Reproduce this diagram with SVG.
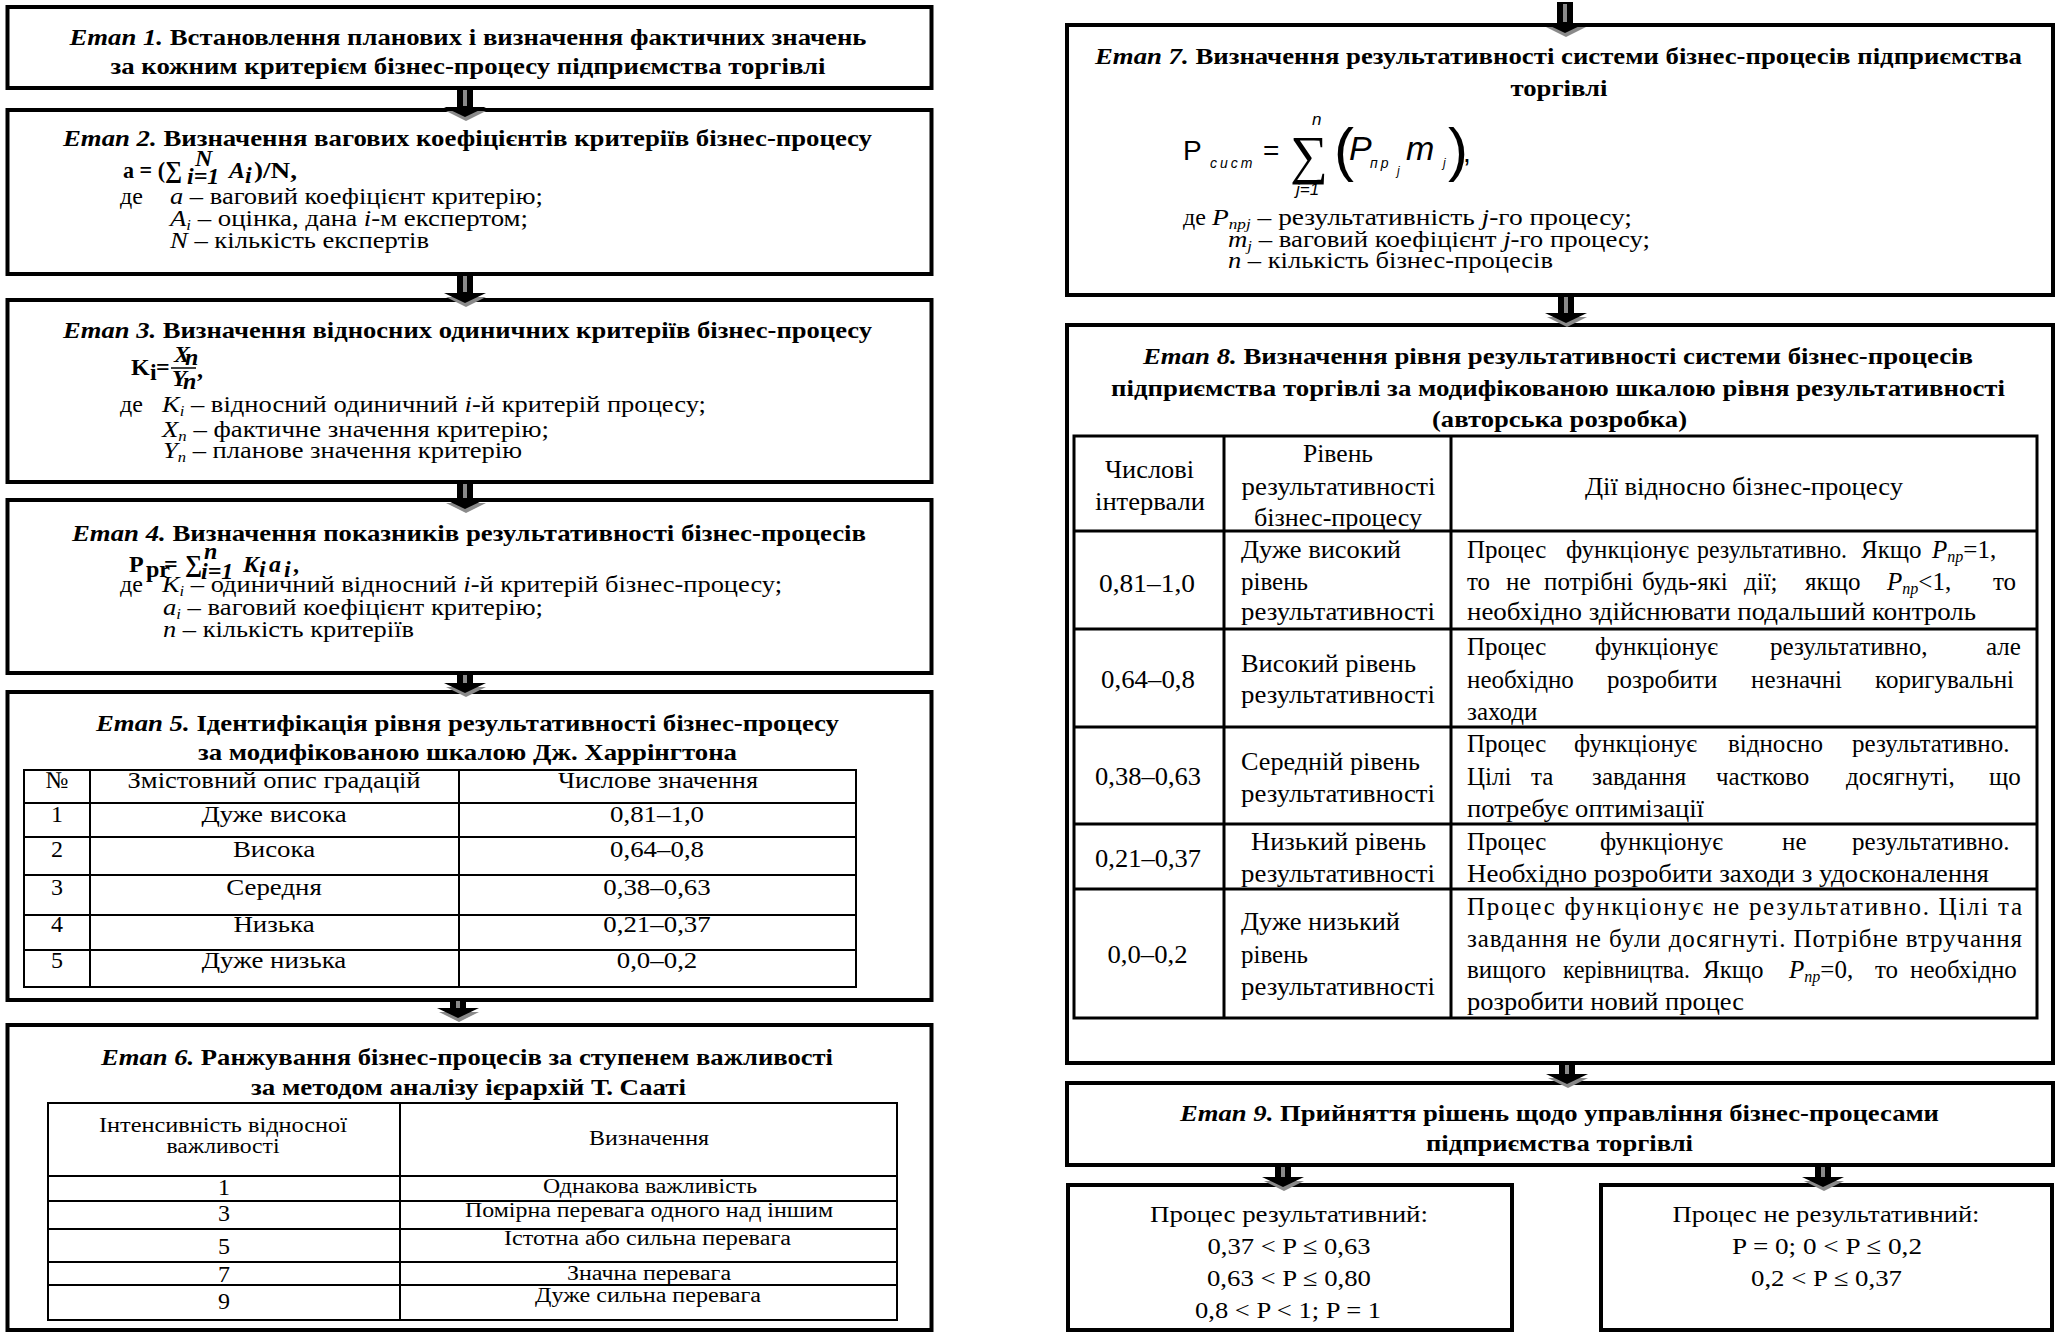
<svg xmlns="http://www.w3.org/2000/svg" xmlns:xlink="http://www.w3.org/1999/xlink" width="2058" height="1333" viewBox="0 0 2058 1333">
<style>
text{font-family:"Liberation Serif","Times New Roman",serif;fill:#000}
.box{fill:#fff;stroke:#000;stroke-width:4}
.tl{fill:none;stroke:#000;stroke-width:2}
.tl3{fill:none;stroke:#000;stroke-width:3}
.h{font-size:24px;font-weight:bold}
.b{font-size:24px}
.s{font-size:20px}
.m{font-size:25px}
.c{text-anchor:middle}
.i{font-style:italic}
.sub{font-size:15px}
.sf{font-family:"Liberation Sans",Arial,sans-serif}
.sh{fill:#000}
.st{fill:#8a8a8a}
</style>
<defs>
<g id="ah">
<polygon class="st" points="-19,4 21,4 1,14"/>
<polygon class="sh" points="-21,0 21,0 0,10"/>
</g>
</defs>

<g id="etap1">
<rect class="box" x="7.5" y="7" width="924" height="81"/>
<text class="h c" x="468" y="45" textLength="797" lengthAdjust="spacingAndGlyphs"><tspan class="i">Етап 1.</tspan> Встановлення планових і визначення фактичних значень</text>
<text class="h c" x="468" y="74" textLength="715" lengthAdjust="spacingAndGlyphs">за кожним критерієм бізнес-процесу підприємства торгівлі</text>
</g>

<g id="etap2">
<rect class="box" x="7.5" y="110" width="924" height="164"/>
<text class="h c" x="467.5" y="146" textLength="809" lengthAdjust="spacingAndGlyphs"><tspan class="i">Етап 2.</tspan> Визначення вагових коефіцієнтів критеріїв бізнес-процесу</text>
<text class="h" x="123" y="178" textLength="42" lengthAdjust="spacingAndGlyphs">a = (</text>
<text class="h" x="165" y="178">∑</text>
<text class="h i" x="187" y="184" font-size="15">i=1</text>
<text class="h i" x="195" y="166" font-size="15">N</text>
<text class="h i" x="229" y="178">A</text>
<text class="h i" x="245" y="183" font-size="15">i</text>
<text class="h" x="254" y="178" textLength="43" lengthAdjust="spacingAndGlyphs">)/N,</text>
<text class="b" x="120" y="204">де</text>
<text class="b" x="170" y="204" textLength="373" lengthAdjust="spacingAndGlyphs"><tspan class="i">a</tspan> – ваговий коефіцієнт критерію;</text>
<text class="b" x="170" y="226" textLength="358" lengthAdjust="spacingAndGlyphs"><tspan class="i">A</tspan><tspan class="i sub" dy="4">i</tspan><tspan dy="-4"> – оцінка, дана </tspan><tspan class="i">i</tspan>-м експертом;</text>
<text class="b" x="170" y="248" textLength="259" lengthAdjust="spacingAndGlyphs"><tspan class="i">N</tspan> – кількість експертів</text>
</g>

<g id="etap3">
<rect class="box" x="7.5" y="300" width="924" height="182"/>
<text class="h c" x="467.5" y="338" textLength="809" lengthAdjust="spacingAndGlyphs"><tspan class="i">Етап 3.</tspan> Визначення відносних одиничних критеріїв бізнес-процесу</text>
<text class="h" x="131" y="375">K</text>
<text class="h" x="150" y="380" font-size="15">i</text>
<text class="h" x="156" y="375">=</text>
<text class="h i" x="174" y="362" font-size="17">X</text>
<text class="h i" x="185" y="365" font-size="12">n</text>
<line x1="171" y1="368" x2="196" y2="368" stroke="#000" stroke-width="1.5"/>
<text class="h i" x="172" y="386" font-size="17">Y</text>
<text class="h i" x="183" y="389" font-size="12">n</text>
<text class="h" x="197" y="377">,</text>
<text class="b" x="120" y="412">де</text>
<text class="b" x="162" y="412" textLength="544" lengthAdjust="spacingAndGlyphs"><tspan class="i">K</tspan><tspan class="i sub" dy="4">i</tspan><tspan dy="-4"> – відносний одиничний </tspan><tspan class="i">i</tspan>-й критерій процесу;</text>
<text class="b" x="162" y="437" textLength="387" lengthAdjust="spacingAndGlyphs"><tspan class="i">X</tspan><tspan class="i sub" dy="4">n</tspan><tspan dy="-4"> – фактичне значення критерію;</tspan></text>
<text class="b" x="163" y="458" textLength="359" lengthAdjust="spacingAndGlyphs"><tspan class="i">Y</tspan><tspan class="i sub" dy="4">n</tspan><tspan dy="-4"> – планове значення критерію</tspan></text>
</g>

<g id="etap4">
<rect class="box" x="7.5" y="500" width="924" height="173"/>
<text class="h c" x="469" y="541" textLength="794" lengthAdjust="spacingAndGlyphs"><tspan class="i">Етап 4.</tspan> Визначення показників результативності бізнес-процесів</text>
<text class="h" x="129" y="572">P</text>
<text class="h" x="146" y="577" font-size="15">pr</text>
<text class="h" x="164" y="572">=</text>
<text class="h" x="185" y="572" font-size="22">∑</text>
<text class="h i" x="201" y="579" font-size="14">i=1</text>
<text class="h i" x="204" y="559" font-size="14">n</text>
<text class="h i" x="243" y="572">K</text>
<text class="h i" x="259" y="577" font-size="15">i</text>
<text class="h i" x="269" y="572">a</text>
<text class="h i" x="284" y="577" font-size="15">i</text>
<text class="h" x="293" y="572">,</text>
<text class="b" x="120" y="592">де</text>
<text class="b" x="162" y="592" textLength="620" lengthAdjust="spacingAndGlyphs"><tspan class="i">K</tspan><tspan class="i sub" dy="4">i</tspan><tspan dy="-4"> – одиничний відносний </tspan><tspan class="i">i</tspan>-й критерій бізнес-процесу;</text>
<text class="b" x="163" y="615" textLength="380" lengthAdjust="spacingAndGlyphs"><tspan class="i">a</tspan><tspan class="i sub" dy="4">i</tspan><tspan dy="-4"> – ваговий коефіцієнт критерію;</tspan></text>
<text class="b" x="163" y="637" textLength="251" lengthAdjust="spacingAndGlyphs"><tspan class="i">n</tspan> – кількість критеріїв</text>
</g>

<g id="etap5">
<rect class="box" x="7.5" y="692" width="924" height="308"/>
<text class="h c" x="467.5" y="731" textLength="743" lengthAdjust="spacingAndGlyphs"><tspan class="i">Етап 5.</tspan> Ідентифікація рівня результативності бізнес-процесу</text>
<text class="h c" x="467.5" y="760" textLength="539" lengthAdjust="spacingAndGlyphs">за модифікованою шкалою Дж. Харрінгтона</text>
<rect class="tl" x="24" y="770" width="832" height="217"/>
<path class="tl" d="M90 770V987M459 770V987M24 803H856M24 837H856M24 875H856M24 915H856M24 950H856"/>
<text class="b c" x="57" y="788">№</text>
<text class="b c" x="274" y="788" textLength="293" lengthAdjust="spacingAndGlyphs">Змістовний опис градацій</text>
<text class="b c" x="658" y="788" textLength="200" lengthAdjust="spacingAndGlyphs">Числове значення</text>
<text class="b c" x="57" y="822">1</text>
<text class="b c" x="57" y="857">2</text>
<text class="b c" x="57" y="895">3</text>
<text class="b c" x="57" y="932">4</text>
<text class="b c" x="57" y="968">5</text>
<g transform="translate(274,0) scale(1.12,1)">
<text class="b c" x="0" y="822">Дуже висока</text>
<text class="b c" x="0" y="857">Висока</text>
<text class="b c" x="0" y="895">Середня</text>
<text class="b c" x="0" y="932">Низька</text>
<text class="b c" x="0" y="968">Дуже низька</text>
</g>
<g transform="translate(657,0) scale(1.12,1)">
<text class="b c" x="0" y="822">0,81–1,0</text>
<text class="b c" x="0" y="857">0,64–0,8</text>
<text class="b c" x="0" y="895">0,38–0,63</text>
<text class="b c" x="0" y="932">0,21–0,37</text>
<text class="b c" x="0" y="968">0,0–0,2</text>
</g>
</g>

<g id="etap6">
<rect class="box" x="7.5" y="1025" width="924" height="305"/>
<text class="h c" x="467" y="1065" textLength="732" lengthAdjust="spacingAndGlyphs"><tspan class="i">Етап 6.</tspan> Ранжування бізнес-процесів за ступенем важливості</text>
<text class="h c" x="468.5" y="1095" textLength="435" lengthAdjust="spacingAndGlyphs">за методом аналізу ієрархій Т. Сааті</text>
<rect class="tl" x="48" y="1103" width="849" height="217"/>
<path class="tl" d="M400 1103V1320M48 1176H897M48 1201H897M48 1229H897M48 1262H897M48 1285H897"/>
<text class="s c" x="223" y="1132" textLength="248" lengthAdjust="spacingAndGlyphs">Інтенсивність відносної</text>
<text class="s c" x="223" y="1153" textLength="113" lengthAdjust="spacingAndGlyphs">важливості</text>
<text class="s c" x="649" y="1145" textLength="120" lengthAdjust="spacingAndGlyphs">Визначення</text>
<text class="b c" x="224" y="1195">1</text><text class="s c" x="650" y="1193" textLength="214" lengthAdjust="spacingAndGlyphs">Однакова важливість</text>
<text class="b c" x="224" y="1221">3</text><text class="s c" x="649" y="1217" textLength="368" lengthAdjust="spacingAndGlyphs">Помірна перевага одного над іншим</text>
<text class="b c" x="224" y="1254">5</text><text class="s c" x="647.5" y="1245" textLength="287" lengthAdjust="spacingAndGlyphs">Істотна або сильна перевага</text>
<text class="b c" x="224" y="1282">7</text><text class="s c" x="649" y="1280" textLength="164" lengthAdjust="spacingAndGlyphs">Значна перевага</text>
<text class="b c" x="224" y="1309">9</text><text class="s c" x="648" y="1302" textLength="226" lengthAdjust="spacingAndGlyphs">Дуже сильна перевага</text>
</g>

<g id="etap7">
<rect class="box" x="1067" y="25" width="986" height="270"/>
<text class="h c" x="1558.5" y="64" textLength="927" lengthAdjust="spacingAndGlyphs"><tspan class="i">Етап 7.</tspan> Визначення результативності системи бізнес-процесів підприємства</text>
<text class="h c" x="1559" y="96" textLength="97" lengthAdjust="spacingAndGlyphs">торгівлі</text>
<text class="sf" x="1183" y="160" font-size="28">P</text>
<text class="sf i" x="1210" y="168" font-size="14" letter-spacing="3">сист</text>
<text class="sf" x="1263" y="160" font-size="28">=</text>
<text x="1290" y="173" font-size="53" font-family="DejaVu Sans, sans-serif">∑</text>
<text class="sf i" x="1312" y="125" font-size="17">n</text>
<text class="sf i" x="1296" y="195" font-size="17">j=1</text>
<text class="sf" x="1334" y="170" font-size="60">(</text>
<text class="sf i" x="1349" y="160" font-size="34">P</text>
<text class="sf i" x="1370" y="168" font-size="14" letter-spacing="3">пр</text>
<text class="sf i" x="1397" y="175" font-size="12">j</text>
<text class="sf i" x="1406" y="160" font-size="34">m</text>
<text class="sf i" x="1443" y="167" font-size="12">j</text>
<text class="sf" x="1448" y="170" font-size="60">)</text>
<text class="sf" x="1463" y="162" font-size="28">,</text>
<text class="b" x="1183" y="225">де</text>
<text class="b" x="1212" y="225" textLength="420" lengthAdjust="spacingAndGlyphs"><tspan class="i">P</tspan><tspan class="i sub" dy="4">прj</tspan><tspan dy="-4"> – результативність </tspan><tspan class="i">j</tspan>-го процесу;</text>
<text class="b" x="1228" y="247" textLength="422" lengthAdjust="spacingAndGlyphs"><tspan class="i">m</tspan><tspan class="i sub" dy="4">j</tspan><tspan dy="-4"> – ваговий коефіцієнт </tspan><tspan class="i">j</tspan>-го процесу;</text>
<text class="b" x="1228" y="268" textLength="325" lengthAdjust="spacingAndGlyphs"><tspan class="i">n</tspan> – кількість бізнес-процесів</text>
</g>

<g id="etap8">
<rect class="box" x="1067" y="325" width="986" height="738"/>
<text class="h c" x="1558" y="364" textLength="830" lengthAdjust="spacingAndGlyphs"><tspan class="i">Етап 8.</tspan> Визначення рівня результативності системи бізнес-процесів</text>
<text class="h c" x="1558" y="396" textLength="894" lengthAdjust="spacingAndGlyphs">підприємства торгівлі за модифікованою шкалою рівня результативності</text>
<text class="h c" x="1559.5" y="427" textLength="255" lengthAdjust="spacingAndGlyphs">(авторська розробка)</text>
<rect class="tl3" x="1074" y="436" width="963" height="582"/>
<path class="tl3" d="M1224 436V1018M1451 436V1018M1074 531H2037M1074 629H2037M1074 727H2037M1074 824H2037M1074 889H2037"/>
<text class="m c" x="1149.5" y="478" textLength="89" lengthAdjust="spacingAndGlyphs">Числові</text>
<text class="m c" x="1150" y="510" textLength="110" lengthAdjust="spacingAndGlyphs">інтервали</text>
<text class="m c" x="1338" y="462" textLength="70" lengthAdjust="spacingAndGlyphs">Рівень</text>
<text class="m c" x="1338.5" y="495" textLength="194" lengthAdjust="spacingAndGlyphs">результативності</text>
<text class="m c" x="1338" y="526" textLength="168" lengthAdjust="spacingAndGlyphs">бізнес-процесу</text>
<text class="m c" x="1744" y="495" textLength="318" lengthAdjust="spacingAndGlyphs">Дії відносно бізнес-процесу</text>

<text class="m c" x="1147" y="592" textLength="96" lengthAdjust="spacingAndGlyphs">0,81–1,0</text>
<text class="m" x="1241" y="558" textLength="160" lengthAdjust="spacingAndGlyphs">Дуже високий</text>
<text class="m" x="1241" y="590" textLength="67" lengthAdjust="spacingAndGlyphs">рівень</text>
<text class="m" x="1241" y="620" textLength="194" lengthAdjust="spacingAndGlyphs">результативності</text>
<text class="m" y="558"><tspan x="1467">Процес</tspan><tspan x="1566">функціонує</tspan><tspan x="1697" textLength="150" lengthAdjust="spacingAndGlyphs">результативно.</tspan><tspan x="1861">Якщо</tspan><tspan x="1932" class="i">P</tspan><tspan class="i" font-size="16" dy="4">пр</tspan><tspan dy="-4">=1,</tspan></text>
<text class="m" y="590"><tspan x="1467">то</tspan><tspan x="1506">не</tspan><tspan x="1544">потрібні</tspan><tspan x="1642">будь-які</tspan><tspan x="1744">дії;</tspan><tspan x="1805">якщо</tspan><tspan x="1887" class="i">P</tspan><tspan class="i" font-size="16" dy="4">пр</tspan><tspan dy="-4">&lt;1,</tspan><tspan x="1993">то</tspan></text>
<text class="m" x="1467" y="620" textLength="509" lengthAdjust="spacingAndGlyphs">необхідно здійснювати подальший контроль</text>

<text class="m c" x="1148" y="688" textLength="94" lengthAdjust="spacingAndGlyphs">0,64–0,8</text>
<text class="m" x="1241" y="672" textLength="175" lengthAdjust="spacingAndGlyphs">Високий рівень</text>
<text class="m" x="1241" y="703" textLength="194" lengthAdjust="spacingAndGlyphs">результативності</text>
<text class="m" y="655"><tspan x="1467">Процес</tspan><tspan x="1595">функціонує</tspan><tspan x="1770">результативно,</tspan><tspan x="1986">але</tspan></text>
<text class="m" y="688"><tspan x="1467">необхідно</tspan><tspan x="1607">розробити</tspan><tspan x="1751">незначні</tspan><tspan x="1875">коригувальні</tspan></text>
<text class="m" x="1467" y="720">заходи</text>

<text class="m c" x="1148" y="785" textLength="106" lengthAdjust="spacingAndGlyphs">0,38–0,63</text>
<text class="m" x="1241" y="770" textLength="179" lengthAdjust="spacingAndGlyphs">Середній рівень</text>
<text class="m" x="1241" y="802" textLength="194" lengthAdjust="spacingAndGlyphs">результативності</text>
<text class="m" y="752"><tspan x="1467">Процес</tspan><tspan x="1574">функціонує</tspan><tspan x="1728">відносно</tspan><tspan x="1852">результативно.</tspan></text>
<text class="m" y="785"><tspan x="1467">Цілі</tspan><tspan x="1531">та</tspan><tspan x="1592">завдання</tspan><tspan x="1716">частково</tspan><tspan x="1846">досягнуті,</tspan><tspan x="1989">що</tspan></text>
<text class="m" x="1467" y="817" textLength="237" lengthAdjust="spacingAndGlyphs">потребує оптимізації</text>

<text class="m c" x="1148" y="867" textLength="106" lengthAdjust="spacingAndGlyphs">0,21–0,37</text>
<text class="m" x="1251" y="850" textLength="175" lengthAdjust="spacingAndGlyphs">Низький рівень</text>
<text class="m" x="1241" y="882" textLength="194" lengthAdjust="spacingAndGlyphs">результативності</text>
<text class="m" y="850"><tspan x="1467">Процес</tspan><tspan x="1600">функціонує</tspan><tspan x="1782">не</tspan><tspan x="1852">результативно.</tspan></text>
<text class="m" x="1467" y="882" textLength="522" lengthAdjust="spacingAndGlyphs">Необхідно розробити заходи з удосконалення</text>

<text class="m c" x="1147.5" y="963" textLength="80" lengthAdjust="spacingAndGlyphs">0,0–0,2</text>
<text class="m" x="1241" y="930" textLength="159" lengthAdjust="spacingAndGlyphs">Дуже низький</text>
<text class="m" x="1241" y="963" textLength="67" lengthAdjust="spacingAndGlyphs">рівень</text>
<text class="m" x="1241" y="995" textLength="194" lengthAdjust="spacingAndGlyphs">результативності</text>
<text class="m" x="1467" y="915" textLength="555" lengthAdjust="spacing">Процес функціонує не результативно. Цілі та</text>
<text class="m" x="1467" y="947" textLength="555" lengthAdjust="spacing">завдання не були досягнуті. Потрібне втручання</text>
<text class="m" y="978"><tspan x="1467">вищого</tspan><tspan x="1563" textLength="127" lengthAdjust="spacingAndGlyphs">керівництва.</tspan><tspan x="1703">Якщо</tspan><tspan x="1789" class="i">P</tspan><tspan class="i" font-size="16" dy="4">пр</tspan><tspan dy="-4">=0,</tspan><tspan x="1875">то</tspan><tspan x="1910">необхідно</tspan></text>
<text class="m" x="1467" y="1010" textLength="277" lengthAdjust="spacingAndGlyphs">розробити новий процес</text>
</g>

<g id="etap9">
<rect class="box" x="1067" y="1083" width="986" height="82"/>
<text class="h c" x="1559.5" y="1121" textLength="759" lengthAdjust="spacingAndGlyphs"><tspan class="i">Етап 9.</tspan> Прийняття рішень щодо управління бізнес-процесами</text>
<text class="h c" x="1559.5" y="1151" textLength="267" lengthAdjust="spacingAndGlyphs">підприємства торгівлі</text>
</g>

<g id="result-yes">
<rect class="box" x="1068" y="1185" width="444" height="145"/>
<text class="b c" x="1289" y="1222" textLength="278" lengthAdjust="spacingAndGlyphs">Процес результативний:</text>
<text class="b c" x="1289" y="1254" textLength="163" lengthAdjust="spacingAndGlyphs">0,37 &lt; P ≤ 0,63</text>
<text class="b c" x="1289" y="1286" textLength="164" lengthAdjust="spacingAndGlyphs">0,63 &lt; P ≤ 0,80</text>
<text class="b c" x="1288" y="1318" textLength="186" lengthAdjust="spacingAndGlyphs">0,8 &lt; P &lt; 1; P = 1</text>
</g>

<g id="result-no">
<rect class="box" x="1601" y="1185" width="451" height="145"/>
<text class="b c" x="1826" y="1222" textLength="307" lengthAdjust="spacingAndGlyphs">Процес не результативний:</text>
<text class="b c" x="1827" y="1254" textLength="190" lengthAdjust="spacingAndGlyphs">P = 0; 0 &lt; P ≤ 0,2</text>
<text class="b c" x="1826.5" y="1286" textLength="151" lengthAdjust="spacingAndGlyphs">0,2 &lt; P ≤ 0,37</text>
</g>

<g id="connectors">
<g transform="translate(465,0)"><rect class="sh" x="-8" y="88" width="16" height="20"/><rect class="st" x="-2" y="90" width="4" height="16"/><use xlink:href="#ah" href="#ah" y="107"/></g>
<g transform="translate(465,0)"><rect class="sh" x="-8" y="274" width="16" height="20"/><rect class="st" x="-2" y="276" width="4" height="16"/><use xlink:href="#ah" href="#ah" y="293"/></g>
<g transform="translate(465,0)"><rect class="sh" x="-8" y="482" width="16" height="18"/><rect class="st" x="-2" y="484" width="4" height="14"/><use xlink:href="#ah" href="#ah" y="499"/></g>
<g transform="translate(465,0)"><rect class="sh" x="-8" y="673" width="16" height="11"/><rect class="st" x="-2" y="675" width="4" height="8"/><use xlink:href="#ah" href="#ah" y="683"/></g>
<g transform="translate(458,0)"><rect class="sh" x="-8" y="1000" width="16" height="9"/><rect class="st" x="-2" y="1001" width="4" height="7"/><use xlink:href="#ah" href="#ah" y="1008"/></g>
<g transform="translate(1565,0)"><rect class="sh" x="-8" y="2" width="16" height="22"/><rect class="st" x="-2" y="4" width="4" height="18"/><use xlink:href="#ah" href="#ah" y="23"/></g>
<g transform="translate(1566,0)"><rect class="sh" x="-8" y="295" width="16" height="19"/><rect class="st" x="-2" y="297" width="4" height="16"/><use xlink:href="#ah" href="#ah" y="313"/></g>
<g transform="translate(1567,0)"><rect class="sh" x="-8" y="1063" width="16" height="12"/><rect class="st" x="-2" y="1065" width="4" height="9"/><use xlink:href="#ah" href="#ah" y="1074"/></g>
<g transform="translate(1283,0)"><rect class="sh" x="-8" y="1165" width="16" height="13"/><rect class="st" x="-2" y="1167" width="4" height="10"/><use xlink:href="#ah" href="#ah" y="1177"/></g>
<g transform="translate(1823,0)"><rect class="sh" x="-8" y="1165" width="16" height="13"/><rect class="st" x="-2" y="1167" width="4" height="10"/><use xlink:href="#ah" href="#ah" y="1177"/></g>
</g>
</svg>
